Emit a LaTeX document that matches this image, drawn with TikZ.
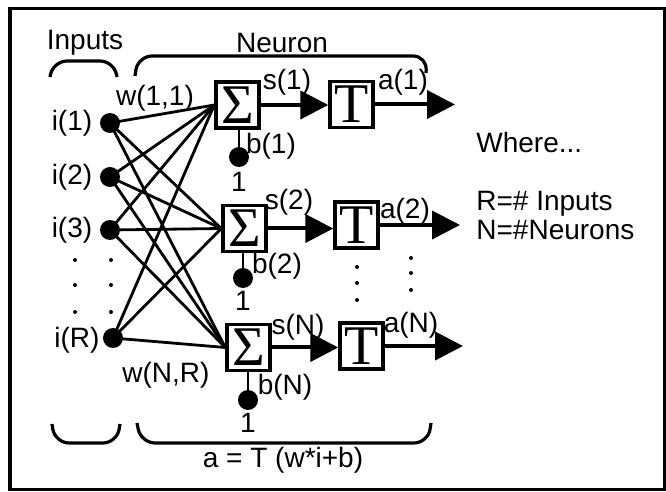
\documentclass[tikz,border=0pt]{standalone}
\usepackage{fontspec}
\setmainfont{Liberation Sans}
\newfontfamily\boxfont{Liberation Serif}
\usetikzlibrary{arrows.meta}

\begin{document}
\begin{tikzpicture}[x=0.5pt, y=-0.5pt,
    lbl/.style={font=\fontsize{14}{16}\selectfont, inner sep=0},
    sumbox/.style={draw, line width=1.7pt, minimum width=21.5pt, minimum height=23pt, inner sep=0, font=\boxfont\fontsize{28}{28}\selectfont},
    bigdot/.style={circle, fill, inner sep=0, minimum size=10pt},
    smalldot/.style={circle, fill, inner sep=0, minimum size=2pt},
    wire/.style={line width=1.4pt},
    sig/.style={line width=2pt, -{Triangle[length=14pt, width=14pt]}},
    brace/.style={line width=1.6pt, rounded corners=7pt}]
    \useasboundingbox (0,0) rectangle (666,492);
    \draw [line width=1.5pt] (10,9) rectangle (664,490);

    % inputs
    \node [bigdot] (i1) at (110,123) {};
    \node [bigdot] (i2) at (110,177) {};
    \node [bigdot] (i3) at (110,230) {};
    \node [bigdot] (iR) at (113,338) {};
    \node [lbl] (li1) at (72,123) {i(1)};
    \node [lbl] (li2) at (72,177) {i(2)};
    \node [lbl] (li3) at (72,230) {i(3)};
    \node [lbl] (liR) at (77,340) {i(R)};
    \foreach \y in {260,285,312} {
        \node [smalldot] at (75,\y) {};
        \node [smalldot] at (111,\y) {};
    }

    % sums and transfer boxes
    \node [sumbox] (s1) at (237.5,105) {Σ};
    \node [sumbox] (s2) at (244.5,228.5) {Σ};
    \node [sumbox] (sN) at (248.5,347.5) {Σ};
    \node [sumbox] (t1) at (351.5,104.5) {T};
    \node [sumbox] (t2) at (356.5,225) {T};
    \node [sumbox] (tN) at (361.5,346) {T};
    \foreach \y in {267,283,300} \node [smalldot] at (357,\y) {};
    \foreach \y in {258,273,290} \node [smalldot] at (411,\y) {};

    % weights
    \foreach \i in {i1,i2,i3,iR}
        \foreach \s in {s1,s2,sN}
            \draw [wire] (\i.center) -- (\s.west);
    \node [lbl] (w11) at (155,98) {w(1,1)};
    \node [lbl] (wNR) at (166,375) {w(N,R)};

    % biases
    \node [bigdot] (b1) at (239,157) {};
    \node [bigdot] (b2) at (243,278) {};
    \node [bigdot] (bN) at (248,400) {};
    \draw [wire] (s1.south -| b1) -- (b1);
    \draw [wire] (s2.south -| b2) -- (b2);
    \draw [wire] (sN.south -| bN) -- (bN);
    \node [lbl] (lb1) at (271,146) {b(1)};
    \node [lbl] (lb2) at (277,266) {b(2)};
    \node [lbl] (lbN) at (285,387) {b(N)};
    \node [lbl] (one1) at (239,182) {1};
    \node [lbl] (one2) at (243,301) {1};
    \node [lbl] (oneN) at (248,423) {1};

    % signals
    \coordinate (o1) at (455,104.5);
    \coordinate (o2) at (460,225);
    \coordinate (oN) at (463,346);
    \draw [sig] (s1.east) -- (s1.east -| t1.west);
    \draw [sig] (s2.east) -- (s2.east -| t2.west);
    \draw [sig] (sN.east) -- (sN.east -| tN.west);
    \draw [sig] (t1.east) -- (o1);
    \draw [sig] (t2.east) -- (o2);
    \draw [sig] (tN.east) -- (oN);
    \node [lbl] (ls1) at (287,82) {s(1)};
    \node [lbl] (ls2) at (289,202) {s(2)};
    \node [lbl] (lsN) at (298,327) {s(N)};
    \node [lbl] (la1) at (403,82) {a(1)};
    \node [lbl] (la2) at (405,211) {a(2)};
    \node [lbl] (laN) at (411,325) {a(N)};

    % braces
    \draw [brace] (50,77) -- (53,61) -- (114,61) -- (117,77);
    \draw [brace] (135,76) -- (138,56) -- (427,56) -- (426,73);
    \draw [brace] (52,424) -- (55,443) -- (117,443) -- (120,424);
    \draw [brace] (137,423) -- (141,443) -- (428,443) -- (431,423);
    \node [lbl] (inputs) at (85,43) {Inputs};
    \node [lbl] (neuron) at (282,43) {Neuron};
    \node [lbl] (formula) at (283,460) {a = T (w*i+b)};

    % legend
    \node [lbl, anchor=west] (where) at (476,142) {Where...};
    \node [lbl, anchor=west] (rdef) at (476,204) {R=\# Inputs};
    \node [lbl, anchor=west] (ndef) at (476,230) {N=\#Neurons};
\end{tikzpicture}
\end{document}
